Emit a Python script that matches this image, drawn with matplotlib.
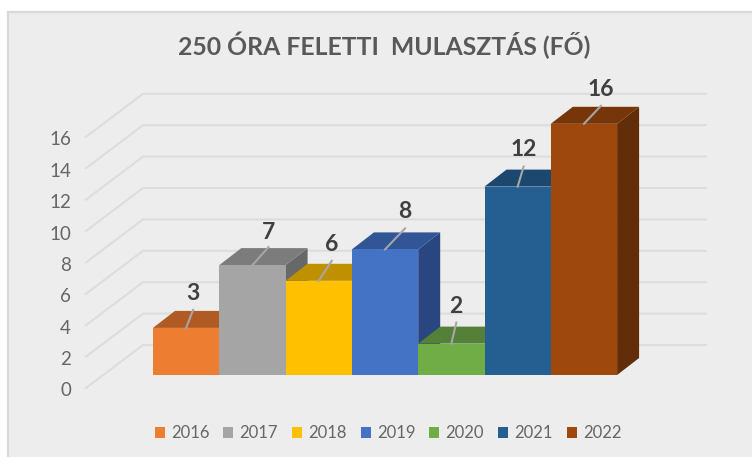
import matplotlib
matplotlib.use('Agg')
import matplotlib.pyplot as plt
from matplotlib.patches import Polygon, Patch, Rectangle

# adatok
years = ['2016', '2017', '2018', '2019', '2020', '2021', '2022']
values = [3, 7, 6, 8, 2, 12, 16]
y_ticks = [0, 2, 4, 6, 8, 10, 12, 14, 16]
title = '250 ÓRA FELETTI  MULASZTÁS (FŐ)'

front_colors = ['#ED7D31', '#A5A5A5', '#FFC000', '#4472C4', '#70AD47', '#255E91', '#9E480E']
top_colors = ['#B05B23', '#7C7C7C', '#BF9000', '#325596', '#54803A', '#1C4870', '#76360A']
side_colors = ['#8F4A1C', '#686868', '#A07900', '#2A4680', '#476C31', '#173C5E', '#622D09']

# adatfelirat eltolasok pixelben (vezeto vonal vege, szoveg kozepe)
leader_dx = [7, 16, 13, 20, 5, 6, 17]
leader_dy = [18, 18, 20, 21, 21, 20, 18]
label_dx = [7, 16, 13, 20, 4, 6, 17]
label_dy = [34, 33, 36, 38, 37, 37, 34]

# a 3D nezet: egy oszlop 66.3 px szeles, egy egyseg 15.7 px magas
W, H = 752, 457
unit_x, unit_y = 66.3, 15.7
x0_px, y0_px = 153, 375
px_x = lambda p: p / unit_x
px_y = lambda p: p / unit_y

fig = plt.figure(figsize=(W / 100, H / 100), dpi=100, facecolor='white')
ax = fig.add_axes([0, 0, 1, 1])
ax.set_xlim(-x0_px / unit_x, (W - x0_px) / unit_x)
ax.set_ylim((y0_px - H) / unit_y, y0_px / unit_y)
ax.axis('off')

# hatter es keret (jobbra es lent kifut a kepbol)
ax.add_patch(Rectangle((px_x(8 - x0_px), px_y(y0_px - 470)), px_x(780), px_y(458),
                       facecolor='#EDEDED', edgecolor='#D9D9D9', linewidth=1.6, zorder=0))

# racsvonalak
wall_left = px_x(86 - x0_px)
wall_back = px_x(143 - x0_px)
wall_right = px_x(706 - x0_px)
floor_front = px_y(-13)
floor_back = px_y(30)
for t in y_ticks:
    ax.plot([wall_left, wall_back, wall_right], [t + floor_front, t + floor_back, t + floor_back],
            color='#DDDDDD', lw=1.5, zorder=1, solid_joinstyle='miter')
    ax.text(px_x(71 - x0_px), t + floor_front + px_y(-3), str(t), ha='right', va='center',
            fontsize=13.5, color='#666666', family='Lato')

# oszlopok balrol jobbra, hogy a kovetkezo takarja az elozot
depth_x = px_x(22)
depth_y = px_y(17)
for i, v in enumerate(values):
    z = 2 + i
    ax.add_patch(Polygon([(i + 1, 0), (i + 1 + depth_x, depth_y), (i + 1 + depth_x, v + depth_y), (i + 1, v)],
                         facecolor=side_colors[i], edgecolor='none', zorder=z))
    ax.add_patch(Polygon([(i, v), (i + depth_x, v + depth_y), (i + 1 + depth_x, v + depth_y), (i + 1, v)],
                         facecolor=top_colors[i], edgecolor='none', zorder=z))
    ax.bar(i + 0.5, v, width=1, color=front_colors[i], linewidth=0, zorder=z)

for i, v in enumerate(values):
    ax.plot([i + 0.5, i + 0.5 + px_x(leader_dx[i])], [v, v + px_y(leader_dy[i])],
            color='#A6A6A6', lw=1.5, zorder=20)
    ax.text(i + 0.5 + px_x(label_dx[i]), v + px_y(label_dy[i]), str(v), ha='center', va='center',
            fontsize=16.5, fontweight='bold', color='#404040', family='Lato', zorder=21)

ax.text(px_x(384 - x0_px), px_y(y0_px - 45), title, ha='center', va='center',
        fontsize=17.8, fontweight='bold', color='#595959', family='Lato')

handles = [Patch(facecolor=c, edgecolor='none') for c in front_colors]
ax.legend(handles, years, ncol=7, loc='center', frameon=False,
          bbox_to_anchor=(388 / W, 1 - 433.5 / H),
          prop={'family': 'Lato', 'size': 12}, labelcolor='#666666',
          handlelength=0.6, handleheight=0.6, handletextpad=0.36, columnspacing=0.85,
          borderpad=0, borderaxespad=0)

fig.savefig('out.png', dpi=100, facecolor='white')
